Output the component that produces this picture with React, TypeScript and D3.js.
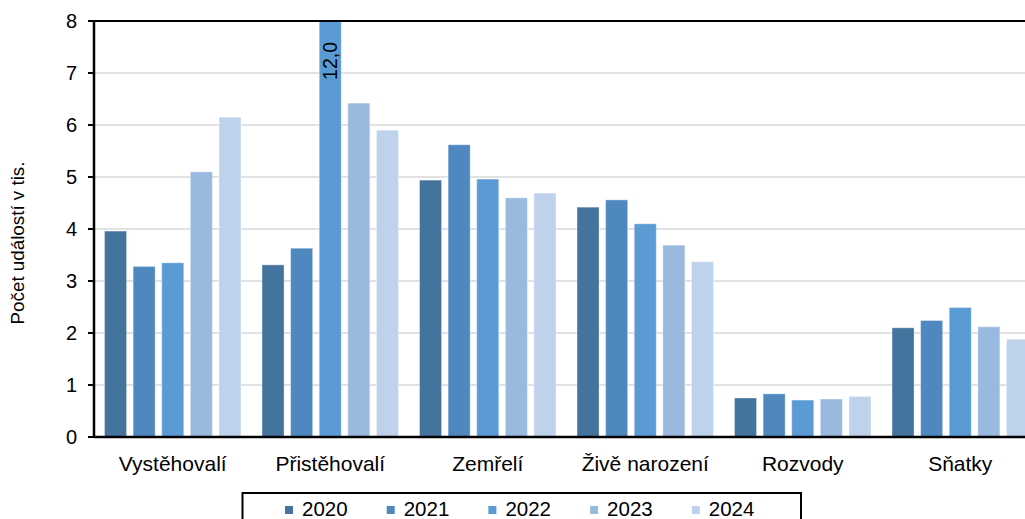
import React from "react";
import * as d3 from "d3";

const categories = ["Vystěhovalí", "Přistěhovalí", "Zemřelí", "Živě narození", "Rozvody", "Sňatky"];
const years = ["2020", "2021", "2022", "2023", "2024"];
const v2020 = [3.96, 3.31, 4.94, 4.42, 0.75, 2.10];
const v2021 = [3.28, 3.63, 5.62, 4.56, 0.83, 2.24];
const v2022 = [3.35, 12.0, 4.96, 4.10, 0.71, 2.49];
const v2023 = [5.10, 6.42, 4.60, 3.69, 0.73, 2.12];
const v2024 = [6.15, 5.90, 4.69, 3.37, 0.78, 1.88];
const series = [v2020, v2021, v2022, v2023, v2024];
const colors = ["#44739e", "#4e88bf", "#5b9bd5", "#9ab9df", "#bfd2eb"];
const yTicks = [0, 1, 2, 3, 4, 5, 6, 7, 8];
const yMax = 8;

const W = 1025, H = 519;
const left = 94, right = 1039, top = 21, bottom = 437;
const font = "'Liberation Sans', Arial, sans-serif";

export default function App() {
  const x = d3.scaleBand<string>().domain(categories).range([left, right]).paddingInner(0).paddingOuter(0);
  const xi = d3.scaleBand<string>().domain(years).range([0, x.bandwidth()]).paddingInner(0.23).paddingOuter(0.368);
  const y = d3.scaleLinear().domain([0, yMax]).range([bottom, top]);

  return (
    <svg width={W} height={H} style={{ position: "absolute", left: 0, top: 0, fontFamily: font }}>
      <defs>
        <clipPath id="plot">
          <rect x={left} y={top} width={right - left} height={bottom - top} />
        </clipPath>
      </defs>
      <rect x={0} y={0} width={W} height={H} fill="#fff" />
      {yTicks.filter(t => t > 0 && t < yMax).map(t => (
        <line key={t} x1={left} x2={W} y1={y(t)} y2={y(t)} stroke="#d9d9d9" strokeWidth={1.5} />
      ))}
      <g clipPath="url(#plot)">
        {categories.map((c, ci) =>
          series.map((s, si) => {
            const v = Math.min(s[ci], yMax);
            return (
              <rect key={c + si} x={(x(c) as number) + (xi(years[si]) as number)} y={y(v)}
                width={xi.bandwidth()} height={y(0) - y(v)} fill={colors[si]}
                stroke="rgba(255,255,255,0.35)" strokeWidth={1} />
            );
          })
        )}
      </g>
      {categories.map((c, ci) =>
        series.map((s, si) =>
          s[ci] > yMax ? (
            <text key={"l" + c + si} transform={`translate(${(x(c) as number) + (xi(years[si]) as number) + xi.bandwidth() / 2 + 7},61) rotate(-90)`}
              textAnchor="middle" fontSize={19.5} fill="#000">
              {d3.format(".1f")(s[ci]).replace(".", ",")}
            </text>
          ) : null
        )
      )}
      <line x1={left} x2={W} y1={top} y2={top} stroke="#000" strokeWidth={2} />
      <line x1={left} x2={W} y1={bottom} y2={bottom} stroke="#000" strokeWidth={2.5} />
      <line x1={left} x2={left} y1={top - 1} y2={bottom + 1} stroke="#000" strokeWidth={2.5} />
      {yTicks.map(t => (
        <g key={t}>
          <line x1={left - 6} x2={left} y1={y(t)} y2={y(t)} stroke="#000" strokeWidth={2} />
          <text x={77} y={y(t)} dy="0.36em" textAnchor="end" fontSize={20} fill="#000">{t}</text>
        </g>
      ))}
      {categories.map(c => (
        <text key={c} x={(x(c) as number) + x.bandwidth() / 2} y={471} textAnchor="middle" fontSize={21} fill="#000">{c}</text>
      ))}
      <text transform="translate(24,243) rotate(-90)" textAnchor="middle" fontSize={18.8} fill="#000">Počet událostí v tis.</text>
      <rect x={242.5} y={493} width={558.5} height={40} fill="#fff" stroke="#000" strokeWidth={2} />
      {years.map((yr, i) => (
        <g key={yr}>
          <rect x={285 + i * 101.7} y={506} width={8} height={8} fill={colors[i]} />
          <text x={302 + i * 101.7} y={515.7} fontSize={20.5} fill="#000">{yr}</text>
        </g>
      ))}
    </svg>
  );
}
